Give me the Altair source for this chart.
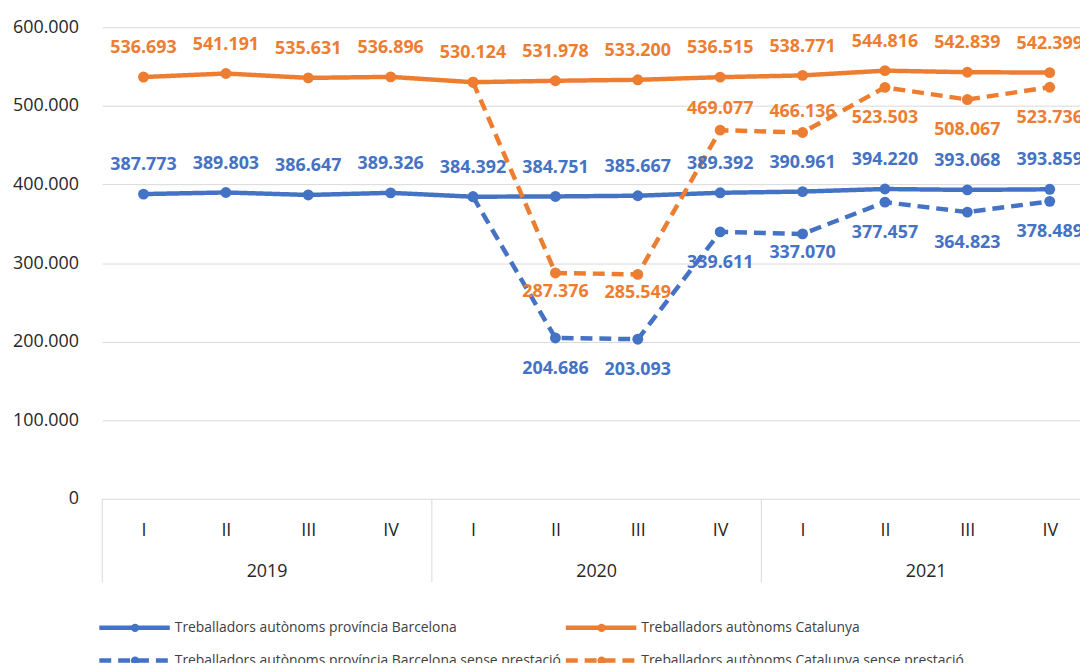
import altair as alt
import pandas as pd

quarters = ["I", "II", "III", "IV"]
years = ["2019", "2020", "2021"]

series_names = [
    "Treballadors autònoms província Barcelona",
    "Treballadors autònoms Catalunya",
    "Treballadors autònoms província Barcelona sense prestació",
    "Treballadors autònoms Catalunya sense prestació",
]
colors = ["#4472C4", "#ED7D31", "#4472C4", "#ED7D31"]
dashes = [[1, 0], [1, 0], [12, 7], [12, 7]]

bcn = [387773, 389803, 386647, 389326, 384392, 384751, 385667, 389392, 390961, 394220, 393068, 393859]
cat = [536693, 541191, 535631, 536896, 530124, 531978, 533200, 536515, 538771, 544816, 542839, 542399]
bcn_sp = [None, None, None, None, 384392, 204686, 203093, 339611, 337070, 377457, 364823, 378489]
cat_sp = [None, None, None, None, 530124, 287376, 285549, 469077, 466136, 523503, 508067, 523736]

# data label placement (as in the original chart)
pos_bcn = ["above"] * 12
pos_cat = ["above"] * 12
pos_bcn_sp = [None] * 4 + ["none", "below", "below", "below", "below2", "below", "below", "below"]
pos_cat_sp = [None] * 4 + ["none", "below2", "below2", "above2", "above2", "below", "below", "below"]

rows = []
for s, vals, poss in zip(series_names, [bcn, cat, bcn_sp, cat_sp], [pos_bcn, pos_cat, pos_bcn_sp, pos_cat_sp]):
    for i, v in enumerate(vals):
        if v is None:
            continue
        rows.append(dict(series=s, idx=i, quarter=quarters[i % 4], year=years[i // 4], value=v, pos=poss[i]))
df = pd.DataFrame(rows)

FONT = "Open Sans"
AX = "#262626"
BAND = 83
N = 12

color = alt.Color("series:N", scale=alt.Scale(domain=series_names, range=colors), legend=None)
dash = alt.StrokeDash("series:N", scale=alt.Scale(domain=series_names, range=dashes), legend=None)

x = alt.X(
    "idx:Q",
    scale=alt.Scale(domain=[-0.5, N - 0.5], nice=False, zero=False, range=[0, BAND * N]),
    axis=alt.Axis(
        values=list(range(N)),
        labelExpr="['I','II','III','IV'][datum.value % 4]",
        grid=False, domain=False, ticks=False, title=None,
        labelFont=FONT, labelFontSize=18, labelColor=AX,
        labelBaseline="middle", labelPadding=32,
    ),
)
y = alt.Y(
    "value:Q",
    scale=alt.Scale(domain=[0, 600000], nice=False),
    axis=alt.Axis(
        values=[0, 100000, 200000, 300000, 400000, 500000, 600000],
        labelExpr="replace(format(datum.value, ','), ',', '.')",
        grid=True, gridColor="#D9D9D9", gridWidth=1,
        domain=False, ticks=False, title=None,
        labelFont=FONT, labelFontSize=18, labelColor=AX, labelPadding=24,
    ),
)

base = alt.Chart(df).transform_calculate(label="replace(format(datum.value, ','), ',', '.')")

# year separators and year labels (second level of category axis)
sep_df = pd.DataFrame({"b": [4 * i - 0.5 for i in range(len(years) + 1)]})
seps = alt.Chart(sep_df).mark_rule(color="#D9D9D9", strokeWidth=1).encode(
    x="b:Q", y=alt.value(475), y2=alt.value(559)
)
yr_df = pd.DataFrame({"year": years, "mid": [4 * i + 1.5 for i in range(len(years))]})
yr_text = alt.Chart(yr_df).mark_text(font=FONT, fontSize=18, color=AX, baseline="middle").encode(
    x="mid:Q", y=alt.value(549), text="year:N"
)

lines = base.mark_line(strokeWidth=4.5).encode(x=x, y=y, color=color, strokeDash=dash)
points = base.mark_circle(size=120, opacity=1).encode(x="idx:Q", y="value:Q", color=color)

label_dy = {"above": -29, "above2": -21, "below": 31, "below2": 19}
texts = []
for p, d in label_dy.items():
    texts.append(
        base.transform_filter(alt.datum.pos == p)
        .mark_text(dy=d, font=FONT, fontSize=18, fontWeight="bold")
        .encode(x="idx:Q", y="value:Q", text="label:N", color=color)
    )

# legend (two columns, two rows)
leg_rows = []
for i, s in enumerate(series_names):
    col, row = i % 2, i // 2
    x0 = -3 + col * 470
    leg_rows.append(dict(series=s, lx0=x0, lx1=x0 + 71, lcx=x0 + 36, ltx=x0 + 76, ly=605 + row * 33))
leg_df = pd.DataFrame(leg_rows)
leg = alt.Chart(leg_df)
leg_line = leg.mark_rule(strokeWidth=4.5).encode(
    x=alt.X("lx0:Q", scale=None), x2="lx1:Q", y=alt.Y("ly:Q", scale=None), color=color, strokeDash=dash
)
leg_pt = leg.mark_circle(size=70, opacity=1).encode(
    x=alt.X("lcx:Q", scale=None), y=alt.Y("ly:Q", scale=None), color=color
)
leg_txt = leg.mark_text(align="left", baseline="middle", font=FONT, fontSize=14, color="#404040").encode(
    x=alt.X("ltx:Q", scale=None), y=alt.Y("ly:Q", scale=None), text="series:N"
)

chart = alt.layer(seps, yr_text, lines, points, *texts, leg_line, leg_pt, leg_txt).properties(
    width=985,
    height=475,
    autosize=alt.AutoSizeParams(type="none"),
    padding={"left": 95, "top": 17, "right": 0, "bottom": 163},
).configure_view(stroke=None)

chart.save("out.html", embed_options={"renderer": "svg", "actions": False})
